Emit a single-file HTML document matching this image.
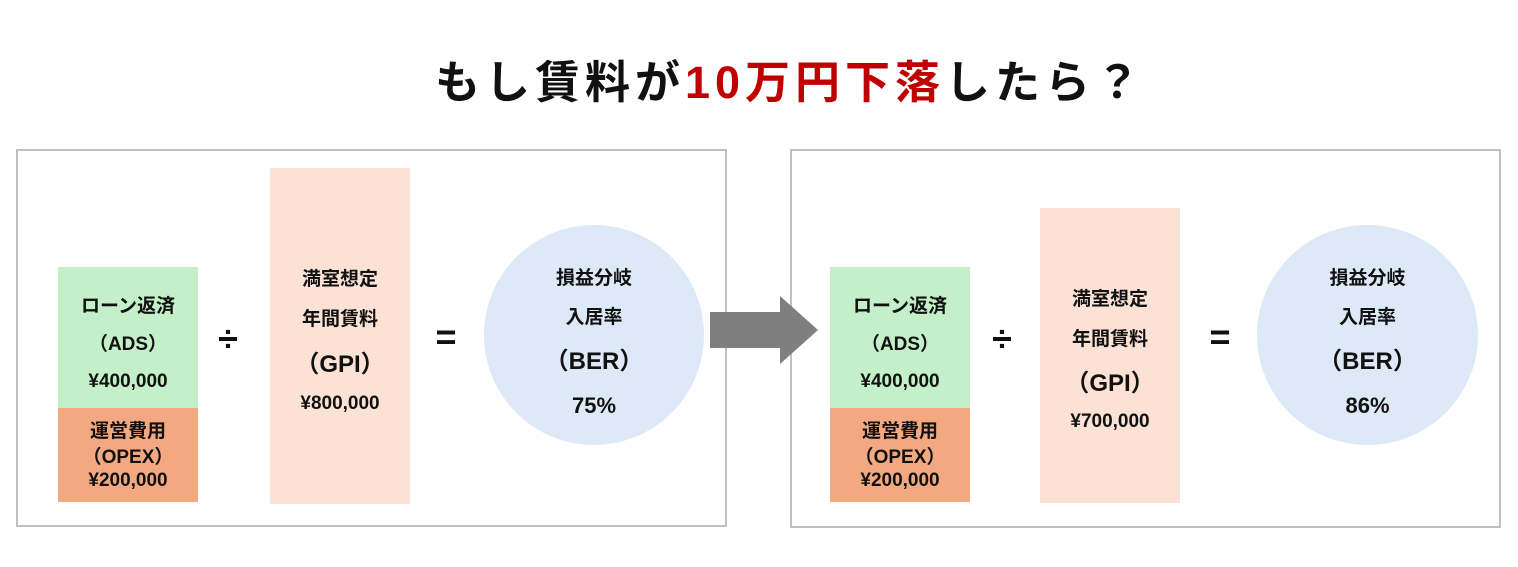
<!DOCTYPE html><html><head><meta charset="utf-8"><style>
body{margin:0;width:1518px;height:567px;background:#fff;position:relative;overflow:hidden;font-family:"Liberation Sans","Noto Sans CJK JP",sans-serif;font-weight:bold;color:#111}
.a{position:absolute}
.box{position:absolute;border:2px solid #c0c0c0;box-sizing:border-box}
.t{position:absolute;width:100%;text-align:center;font-size:19px;left:0}
.c{position:absolute;border-radius:50%;background:#dde9f6}
.op{position:absolute;width:40px;text-align:center;font-size:36px}
</style></head><body>
<div class="a" style="left:0;width:1518px;top:46px;text-align:center;font-size:45px;letter-spacing:5px;padding-left:62px;box-sizing:border-box">もし賃料が<span style="color:#c00000">10万円下落</span>したら？</div>
<div class="box" style="left:16px;top:149px;width:711px;height:378px"></div>
<div class="box" style="left:790px;top:149px;width:711px;height:379px"></div>

<div class="a" style="left:58px;top:267px;width:140px;height:141px;background:#c3f0c8">
<div class="t" style="top:24px">ローン返済</div><div class="t" style="top:62px">（ADS）</div><div class="t" style="top:104px">¥400,000</div></div>
<div class="a" style="left:58px;top:408px;width:140px;height:94px;background:#f2a982">
<div class="t" style="top:8px">運営費用</div><div class="t" style="top:34px">（OPEX）</div><div class="t" style="top:62px">¥200,000</div></div>
<div class="op" style="left:208px;top:318px">÷</div>
<div class="a" style="left:270px;top:168px;width:140px;height:336px;background:#fbe2d5">
<div class="t" style="top:96px">満室想定</div><div class="t" style="top:136px">年間賃料</div><div class="t" style="top:176px;font-size:24px">（GPI）</div><div class="t" style="top:225px">¥800,000</div></div>
<div class="op" style="left:426px;top:316px">=</div>
<div class="c" style="left:484px;top:225px;width:220px;height:220px">
<div class="t" style="top:38px">損益分岐</div><div class="t" style="top:77px">入居率</div><div class="t" style="top:116px;font-size:24px">（BER）</div><div class="t" style="top:168px;font-size:22px">75%</div></div>

<svg class="a" style="left:708px;top:294px" width="112" height="72"><polygon points="2,18 72,18 72,2 110,36 72,70 72,54 2,54" fill="#7f7f7f"/></svg>

<div class="a" style="left:830px;top:267px;width:140px;height:141px;background:#c3f0c8">
<div class="t" style="top:24px">ローン返済</div><div class="t" style="top:62px">（ADS）</div><div class="t" style="top:104px">¥400,000</div></div>
<div class="a" style="left:830px;top:408px;width:140px;height:94px;background:#f2a982">
<div class="t" style="top:8px">運営費用</div><div class="t" style="top:34px">（OPEX）</div><div class="t" style="top:62px">¥200,000</div></div>
<div class="op" style="left:982px;top:318px">÷</div>
<div class="a" style="left:1040px;top:208px;width:140px;height:295px;background:#fbe2d5">
<div class="t" style="top:76px">満室想定</div><div class="t" style="top:116px">年間賃料</div><div class="t" style="top:155px;font-size:24px">（GPI）</div><div class="t" style="top:203px">¥700,000</div></div>
<div class="op" style="left:1200px;top:316px">=</div>
<div class="c" style="left:1257px;top:225px;width:221px;height:220px">
<div class="t" style="top:38px">損益分岐</div><div class="t" style="top:77px">入居率</div><div class="t" style="top:116px;font-size:24px">（BER）</div><div class="t" style="top:168px;font-size:22px">86%</div></div>
</body></html>
